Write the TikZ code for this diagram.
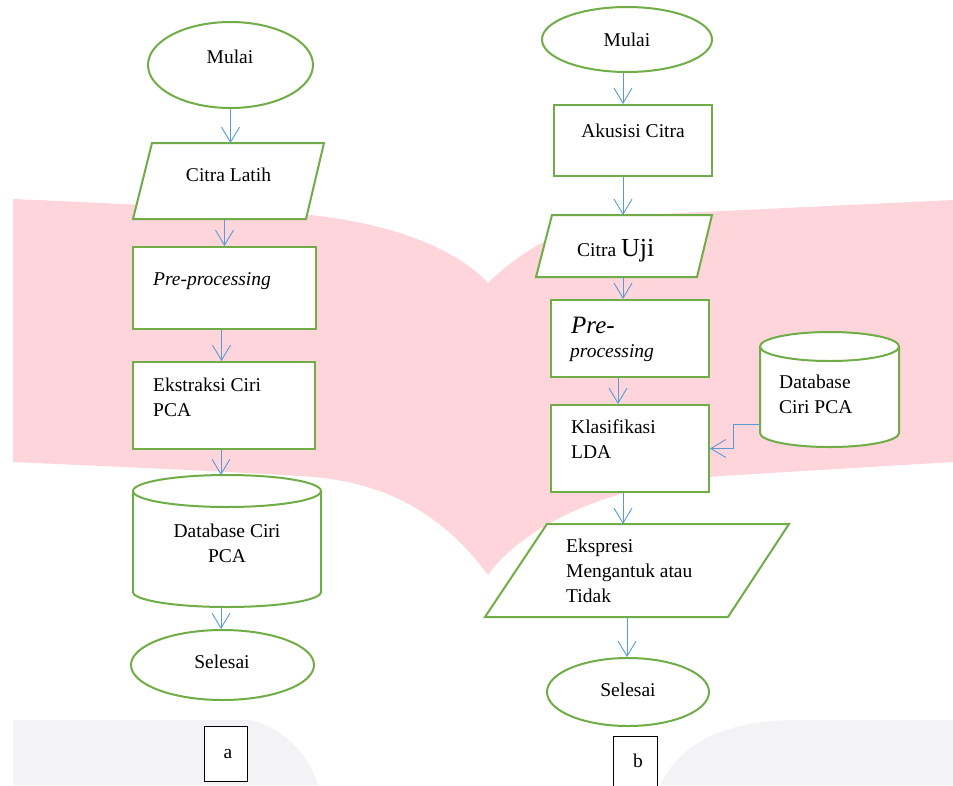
\documentclass[tikz,border=0pt]{standalone}
\usepackage{fontspec}
\setmainfont{Liberation Serif}
\usetikzlibrary{arrows.meta,shapes.geometric}
\definecolor{flgreen}{HTML}{70AD47}
\definecolor{flblue}{HTML}{5B9BD5}
\definecolor{wmpink}{HTML}{FDD5DA}
\definecolor{wmgray}{HTML}{F3F3F6}
\tikzset{
 box/.style={draw=flgreen, line width=2pt, fill=white, rectangle, inner sep=0pt},
 oval/.style={draw=flgreen, line width=2pt, fill=white, ellipse, inner sep=0pt},
 shapeline/.style={draw=flgreen, line width=2pt, fill=white, line join=miter},
 flow/.style={draw=flblue, line width=0.9pt, -{Straight Barb[length=15pt,width=18pt]}},
 txt/.style={font=\fontsize{19.5}{25}\selectfont, inner sep=0pt, text=black},
 lbl/.style={draw=black, line width=1pt, fill=white, inner sep=0pt}
}
\begin{document}
\begin{tikzpicture}[x=1pt,y=-1pt]
\useasboundingbox (0,0) rectangle (953,785);
\fill[white] (0,0) rectangle (953,785);
% watermark
\fill[wmpink] (13,199) .. controls (150,205) and (250,210) .. (300,214)
  .. controls (410,224) and (465,258) .. (488,283) -- (488,575)
  .. controls (440,510) and (380,480) .. (300,476)
  .. controls (200,470) and (100,466) .. (13,462) -- cycle;
\fill[wmpink] (488,283) .. controls (520,252) and (565,222) .. (640,215)
  -- (953,200) -- (953,462) -- (720,476)
  .. controls (600,486) and (520,530) .. (488,575) -- cycle;
\fill[wmgray] (13,720) -- (250,720) .. controls (290,730) and (310,760) .. (318,785) -- (13,785) -- cycle;
\fill[wmgray] (660,785) .. controls (680,745) and (720,722) .. (790,720) -- (953,720) -- (953,785) -- cycle;

% ---------- left flowchart ----------
\node[oval, minimum width=165pt, minimum height=86pt] (mulaiL) at (230.5,65) {};
\path[shapeline] (152,143) -- (324,143) -- (306,219) -- (133,219) -- cycle;
\coordinate (cLtop) at (230.5,143);
\coordinate (cLbot) at (224.5,219);
\node[box, minimum width=183pt, minimum height=82pt] (preL) at (224.5,288) {};
\node[box, minimum width=182pt, minimum height=87pt] (ekstL) at (224,405.5) {};
\path[shapeline] (133,491) -- (133,592) arc[start angle=180,end angle=360,x radius=94pt,y radius=15pt]
  -- (321,491) arc[start angle=0,end angle=180,x radius=94pt,y radius=16pt] -- cycle;
\draw[flgreen, line width=2pt] (133,491) arc[start angle=180,end angle=360,x radius=94pt,y radius=16pt];
\coordinate (dbLtop) at (221,475);
\coordinate (dbLbot) at (221,607);
\node[oval, minimum width=183pt, minimum height=70pt] (selL) at (222.5,665) {};
\node[lbl, minimum width=43pt, minimum height=55pt] (boxa) at (225.5,753.5) {};

\draw[flow] (mulaiL.south) -- (cLtop);
\draw[flow] (cLbot) -- (preL.north);
\draw[flow] ([xshift=-3pt]preL.south) -- ([xshift=-3pt]preL.south |- ekstL.north);
\draw[flow] (ekstL.south -| dbLtop) -- (dbLtop);
\draw[flow] (dbLbot) -- (dbLbot |- selL.north);

\node[txt, anchor=base] (tMulaiL) at (230,63) {Mulai};
\node[txt, anchor=base] (tCitraL) at (228.5,181) {Citra Latih};
\node[txt, anchor=base west] (tPreL) at (153,285) {\itshape Pre-processing};
\node[txt, anchor=base west] (tEkst1) at (153,391) {Ekstraksi Ciri};
\node[txt, anchor=base west] (tEkst2) at (153,416) {PCA};
\node[txt, anchor=base] (tDbL1) at (227,537) {Database Ciri};
\node[txt, anchor=base] (tDbL2) at (227,562) {PCA};
\node[txt, anchor=base] (tSelL) at (222,668) {Selesai};
\node[txt, anchor=base] (ta) at (228,758) {a};

% ---------- right flowchart ----------
\node[oval, minimum width=170pt, minimum height=65pt] (mulaiR) at (627,39.5) {};
\node[box, minimum width=158pt, minimum height=71pt] (akuR) at (633,140.5) {};
\path[shapeline] (552,215) -- (712,215) -- (697,277) -- (536,277) -- cycle;
\coordinate (cUtop) at (623,215);
\coordinate (cUbot) at (623,277);
\node[box, minimum width=158pt, minimum height=77pt] (preR) at (630,338.5) {};
\node[box, minimum width=158pt, minimum height=87pt] (klasR) at (630,448.5) {};
\path[shapeline] (760,346.5) -- (760,433) arc[start angle=180,end angle=360,x radius=69.5pt,y radius=14pt]
  -- (899,346.5) arc[start angle=0,end angle=180,x radius=69.5pt,y radius=14.5pt] -- cycle;
\draw[flgreen, line width=2pt] (760,346.5) arc[start angle=180,end angle=360,x radius=69.5pt,y radius=14.5pt];
\coordinate (dbRleft) at (760,424);
\path[shapeline] (547,524) -- (789,524) -- (728,617) -- (485,617) -- cycle;
\coordinate (eTop) at (623,524);
\coordinate (eBot) at (627,617);
\node[oval, minimum width=162pt, minimum height=68pt] (selR) at (628,692) {};
\node[lbl, minimum width=44pt, minimum height=54pt] (boxb) at (635,763) {};

\draw[flow] (mulaiR.south -| cUtop) -- (akuR.north -| cUtop);
\draw[flow] (akuR.south -| cUtop) -- (cUtop);
\draw[flow] (cUbot) -- (preR.north -| cUbot);
\draw[flow] ([xshift=-12pt]preR.south) -- ([xshift=-12pt]klasR.north);
\draw[flow] (klasR.south -| eTop) -- (eTop);
\draw[flow] (eBot) -- (eBot |- selR.north);
\draw[flow] (dbRleft) -- ++(-27,0) |- (klasR.east);

\node[txt, anchor=base] (tMulaiR) at (627,46) {Mulai};
\node[txt, anchor=base] (tAku) at (633,137) {Akusisi Citra};
\node[txt, anchor=base west] (tCitraU) at (577,256) {Citra {\fontsize{26}{30}\selectfont Uji}};
\node[txt, anchor=base west] (tPre1) at (571,333) {\fontsize{25}{30}\selectfont\itshape Pre-};
\node[txt, anchor=base west] (tPre2) at (570,357) {\itshape processing};
\node[txt, anchor=base west] (tKlas1) at (571,433) {Klasifikasi};
\node[txt, anchor=base west] (tKlas2) at (571,458) {LDA};
\node[txt, anchor=base west] (tDbR1) at (779,388) {Database};
\node[txt, anchor=base west] (tDbR2) at (779,413) {Ciri PCA};
\node[txt, anchor=base west] (tEks1) at (566,552) {Ekspresi};
\node[txt, anchor=base west] (tEks2) at (566,577) {Mengantuk atau};
\node[txt, anchor=base west] (tEks3) at (566,602) {Tidak};
\node[txt, anchor=base] (tSelR) at (628,696) {Selesai};
\node[txt, anchor=base] (tb) at (638,767) {b};
\end{tikzpicture}
\end{document}
